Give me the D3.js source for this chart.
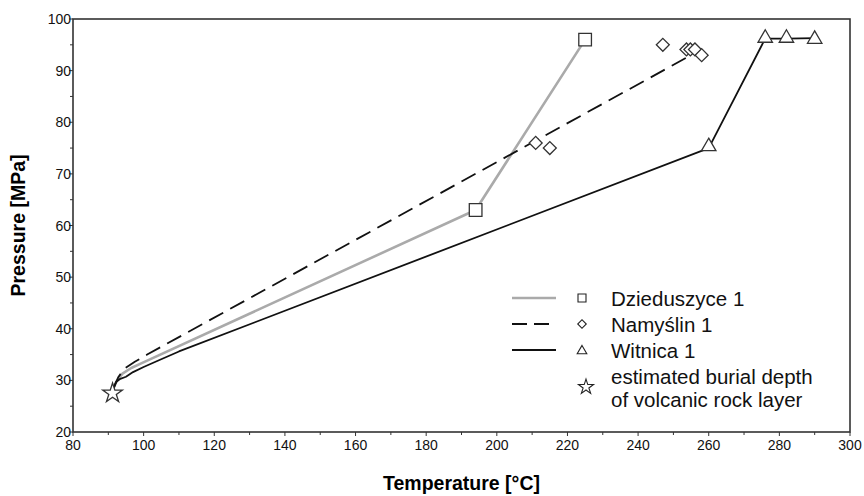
<!DOCTYPE html>
<html><head><meta charset="utf-8">
<script src="https://cdn.jsdelivr.net/npm/d3@7"></script>
<style>body{margin:0;background:#fff}svg{display:block}text{font-family:"Liberation Sans",Arial,sans-serif}</style>
</head><body><svg id="c" width="864" height="496"></svg>
<script>
// ---- data ----
const xTicks = [80,100,120,140,160,180,200,220,240,260,280,300];
const yTicks = [20,30,40,50,60,70,80,90,100];
const seriesNames = ["Dzieduszyce 1","Namyślin 1","Witnica 1"];
// line paths (temperature, pressure)
const dzieLineT = [91.3,92.3,94,96.5,99,194,225];
const dzieLineP = [28.2,29.8,31.3,32.4,33.2,63,96];
const namyLineT = [91.5,92.8,94.6,97.5,101,255];
const namyLineP = [28.5,30.6,32.3,33.6,35,93];
const witnLineT = [91.5,92.2,93.4,95,97,100,104,110,260,276,282,290];
const witnLineP = [28.5,29.7,30.3,30.7,31.6,32.6,33.8,35.6,75,96.2,96.2,96.3];
// measured points
const dzieT = [194,225];
const dzieP = [63,96];
const namyT = [211,215,247,253.7,254.8,256.1,258];
const namyP = [76,75,95,94.1,94.1,94.1,93];
const witnT = [260,276,282,290];
const witnP = [75.3,96.3,96.3,96.1];
const starT = [91.2];
const starP = [27.5];

// ---- layout ----
const svg = d3.select("#c");
const L=73, R=850, T=19, B=432;
const x = d3.scaleLinear().domain([80,300]).range([L,R]);
const y = d3.scaleLinear().domain([20,100]).range([B,T]);
const axisColor = "#333";

const g = svg.append("g");
const xMinor = d3.range(80,301,10), yMinor = d3.range(20,101,5);
g.selectAll(".xm").data(xMinor).join("line")
  .attr("x1",d=>x(d)).attr("x2",d=>x(d)).attr("y1",B).attr("y2",d=>B+(d%20===0?4:3))
  .attr("stroke",axisColor).attr("stroke-width",1);
g.selectAll(".ym").data(yMinor).join("line")
  .attr("y1",d=>y(d)).attr("y2",d=>y(d)).attr("x1",L).attr("x2",d=>L-(d%10===0?4:3))
  .attr("stroke",axisColor).attr("stroke-width",1);
g.append("rect").attr("x",L).attr("y",T).attr("width",R-L).attr("height",B-T)
  .attr("fill","none").attr("stroke",axisColor).attr("stroke-width",1.6);
g.selectAll(".xl").data(xTicks).join("text").attr("x",d=>x(d)).attr("y",B+18)
  .attr("text-anchor","middle").attr("font-size",14).attr("fill","#111").text(d=>d);
g.selectAll(".yl").data(yTicks).join("text").attr("x",L-2).attr("y",d=>y(d)+5)
  .attr("text-anchor","end").attr("font-size",14).attr("fill","#111").text(d=>d);
svg.append("text").attr("x",(L+R)/2).attr("y",490).attr("text-anchor","middle")
  .attr("font-size",19.5).attr("font-weight","bold").text("Temperature [°C]");
svg.append("text").attr("transform",`translate(25,${(T+B)/2}) rotate(-90)`).attr("text-anchor","middle")
  .attr("font-size",19.5).attr("font-weight","bold").text("Pressure [MPa]");

const line = d3.line().x(d=>x(d[0])).y(d=>y(d[1]));
const zip = (a,b)=>a.map((v,i)=>[v,b[i]]);
const styles = [
  {stroke:"#aaaaaa",w:2.6,dash:null},
  {stroke:"#111",w:1.8,dash:"16,8"},
  {stroke:"#111",w:1.8,dash:null}
];
const lines = [zip(dzieLineT,dzieLineP), zip(namyLineT,namyLineP), zip(witnLineT,witnLineP)];
lines.forEach((pts,i)=>{
  svg.append("path").attr("d",line(pts)).attr("fill","none")
    .attr("stroke",styles[i].stroke).attr("stroke-width",styles[i].w)
    .attr("stroke-dasharray",styles[i].dash).attr("stroke-linejoin","round");
});

const sym = {
  square: d3.symbol(d3.symbolSquare, 160),
  diamond: d3.symbol(d3.symbolSquare, 84),
  triangle: d3.symbol(d3.symbolTriangle, 90),
  star: d3.symbol(d3.symbolStar, 120)
};
const mk = (T_,P_,path,rot)=>{
  svg.append("g").selectAll("path").data(zip(T_,P_)).join("path")
    .attr("d",path()).attr("transform",d=>`translate(${x(d[0])},${y(d[1])})${rot?" rotate(45)":""}`)
    .attr("fill","#fff").attr("stroke","#333").attr("stroke-width",1.3);
};
mk(dzieT,dzieP,sym.square,false);
mk(namyT,namyP,sym.diamond,true);
mk(witnT,witnP,sym.triangle,false);
mk(starT,starP,sym.star,false);

const lg = svg.append("g");
const rowsY = [298,324,350];
const lx1=512, lx2=556, sx=582, tx=611, fs=20.5;
rowsY.forEach((yy,i)=>{
  lg.append("line").attr("x1",lx1).attr("x2",lx2).attr("y1",yy).attr("y2",yy)
    .attr("stroke",styles[i].stroke).attr("stroke-width",styles[i].w).attr("stroke-dasharray",i===1?"15,7":null);
  lg.append("text").attr("x",tx).attr("y",yy+7.5).attr("font-size",fs).attr("fill","#111").text(seriesNames[i]);
});
const ls = [d3.symbol(d3.symbolSquare,64), d3.symbol(d3.symbolSquare,36), d3.symbol(d3.symbolTriangle,40)];
ls.forEach((s,i)=>{
  lg.append("path").attr("d",s()).attr("transform",`translate(${sx},${rowsY[i]+(i===2?1:0)})${i===1?" rotate(45)":""}`)
    .attr("fill","#fff").attr("stroke","#222").attr("stroke-width",1.1);
});
lg.append("path").attr("d",d3.symbol(d3.symbolStar,70)()).attr("transform",`translate(${sx+4},387)`)
  .attr("fill","#fff").attr("stroke","#222").attr("stroke-width",1.1);
lg.append("text").attr("x",tx).attr("y",384).attr("font-size",fs).attr("fill","#111").text("estimated burial depth");
lg.append("text").attr("x",tx).attr("y",407).attr("font-size",fs).attr("fill","#111").text("of volcanic rock layer");
</script></body></html>
